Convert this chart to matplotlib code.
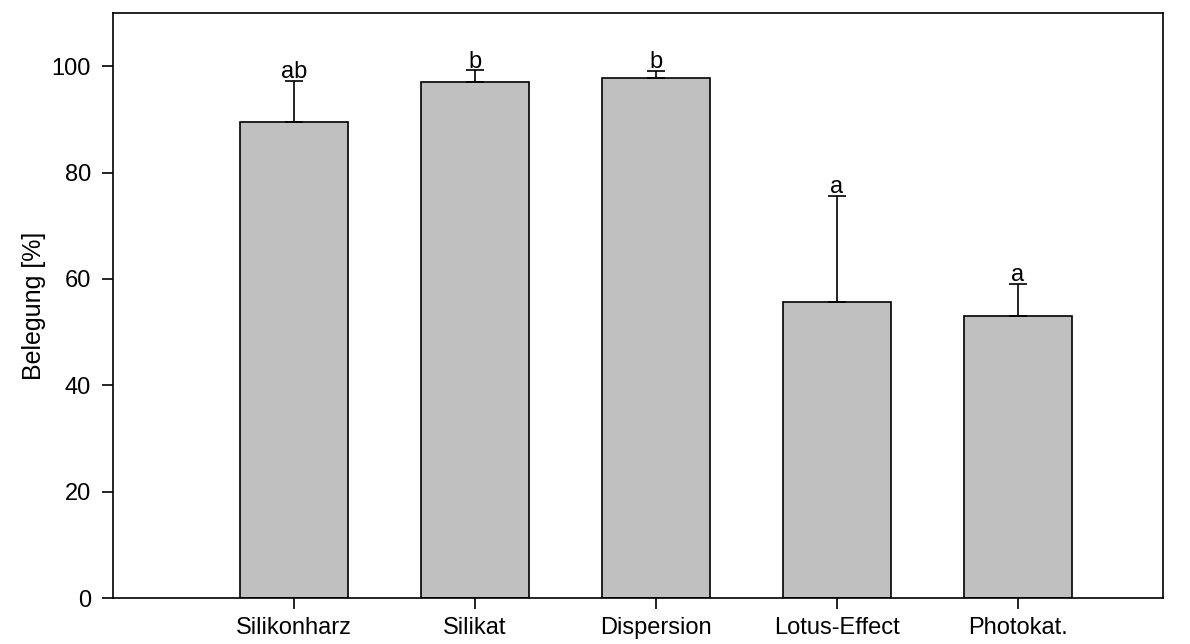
import matplotlib
matplotlib.use("Agg")
import matplotlib.pyplot as plt

plt.rcParams['font.family'] = ['Liberation Sans', 'DejaVu Sans']

# Daten
kategorien = ["Silikonharz", "Silikat", "Dispersion", "Lotus-Effect", "Photokat."]
belegung = [89.6, 97.0, 97.8, 55.6, 53.0]
fehler = [7.7, 2.2, 1.3, 20.0, 6.0]
buchstaben = ["ab", "b", "b", "a", "a"]

fig = plt.figure(figsize=(11.9, 6.44), dpi=100)
ax = fig.add_axes([0.095, 0.0714, 0.882, 0.9084])

x = list(range(len(kategorien)))
ax.bar(x, belegung, width=0.6, color='#c0c0c0', edgecolor='black', linewidth=1.2,
       yerr=[[0] * len(fehler), fehler], capsize=6.5,
       error_kw=dict(ecolor='black', elinewidth=1.2, capthick=1.2))

# Buchstaben über den Fehlerbalken
for xi, wert, err, txt in zip(x, belegung, fehler, buchstaben):
    ax.text(xi, wert + err - 0.4, txt, ha='center', va='bottom', fontsize=17)

ax.set_xlim(-1, 4.8)
ax.set_ylim(0, 110)
ax.set_yticks([0, 20, 40, 60, 80, 100])
ax.set_xticks(x)
ax.set_xticklabels(kategorien)
ax.set_ylabel("Belegung [%]", fontsize=18, labelpad=4)
ax.tick_params(axis='both', labelsize=17, length=8, width=1.2, direction='out')
ax.tick_params(axis='y', pad=8)
ax.tick_params(axis='x', pad=6)
for s in ax.spines.values():
    s.set_linewidth(1.2)

plt.savefig('out.png', dpi=100)
